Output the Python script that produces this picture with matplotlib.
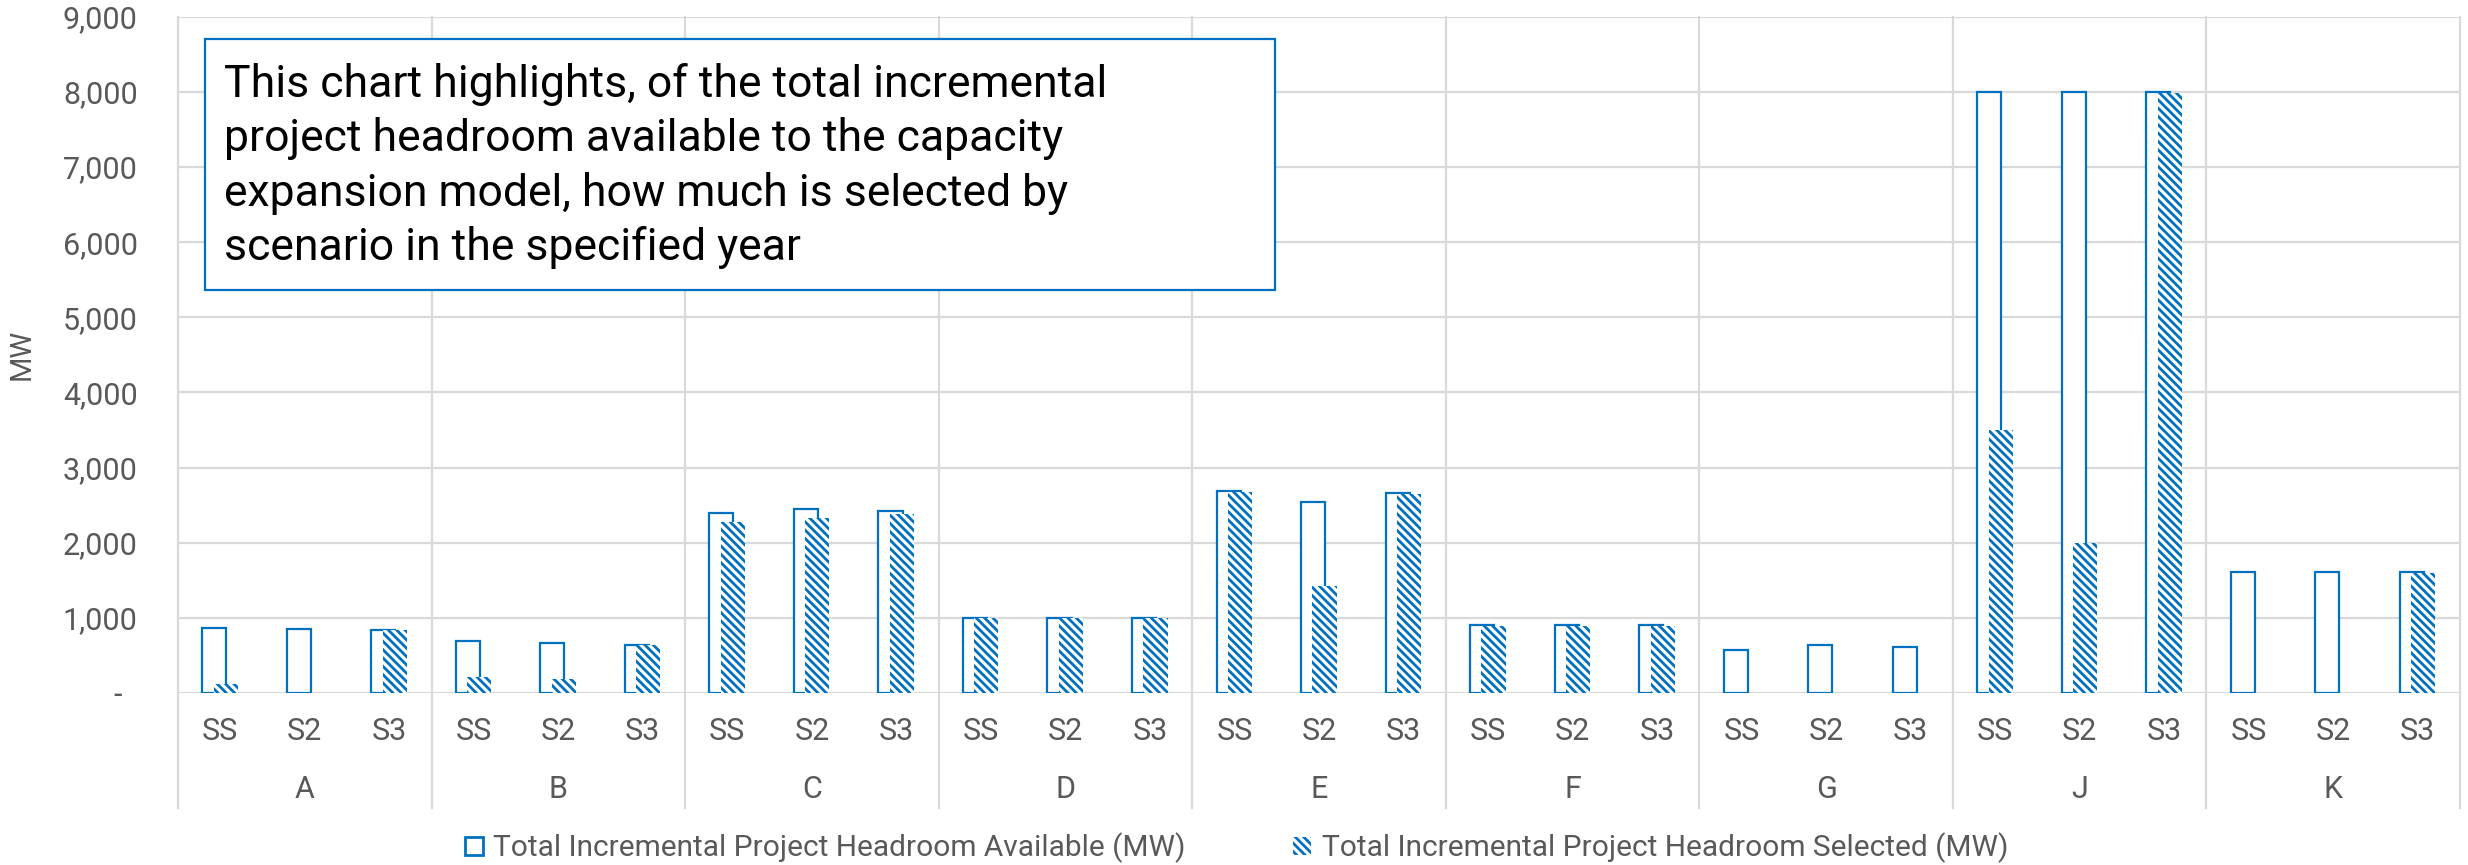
import matplotlib
matplotlib.use("Agg")
import matplotlib.pyplot as plt
from matplotlib.patches import Rectangle, Patch
from matplotlib.ticker import FuncFormatter

# ---- data -------------------------------------------------------------
zones = ["A", "B", "C", "D", "E", "F", "G", "J", "K"]
scenarios = ["SS", "S2", "S3"]

# Total incremental project headroom available (MW), zone by zone, SS/S2/S3
available = [
    860, 850, 840,      # A
    695, 660, 640,      # B
    2400, 2445, 2420,   # C
    1000, 1000, 1000,   # D
    2685, 2540, 2660,   # E
    905, 905, 905,      # F
    575, 635, 615,      # G
    8000, 8000, 8000,   # J
    1615, 1615, 1615,   # K
]

# Total incremental project headroom selected (MW)
selected = [
    120, 0, 835,
    210, 185, 635,
    2270, 2335, 2385,
    995, 995, 995,
    2675, 1430, 2650,
    890, 890, 890,
    0, 0, 0,
    3500, 2000, 7990,
    0, 0, 1600,
]

legend_labels = [
    "Total Incremental Project Headroom Available (MW)",
    "Total Incremental Project Headroom Selected (MW)",
]
note = ("This chart highlights, of the total incremental\n"
        "project headroom available to the capacity\n"
        "expansion model, how much is selected by\n"
        "scenario in the specified year")

# ---- style ------------------------------------------------------------
BLUE = "#0070C0"
GRID = "#D9D9D9"
TXT = "#595959"
plt.rcParams["font.family"] = ["Roboto", "DejaVu Sans"]
plt.rcParams["hatch.linewidth"] = 2.0
plt.rcParams["hatch.color"] = BLUE
HATCH = "\\\\\\\\"

W, H = 2468, 865
fig = plt.figure(figsize=(W / 100, H / 100), dpi=100)
ax = fig.add_axes([178 / W, 1 - 693 / H, (2460 - 178) / W, (693 - 16.7) / H])

n = len(available)
xs = list(range(n))
bw = 0.285
ax.bar([x - 0.07 for x in xs], available, width=bw, facecolor="white",
       edgecolor=BLUE, linewidth=1.6, zorder=3)
ax.bar([x + 0.065 for x in xs], selected, width=bw, facecolor="white",
       edgecolor=BLUE, linewidth=0, hatch=HATCH, zorder=4)

ax.set_xlim(-0.5, n - 0.5)
ax.set_ylim(0, 9000)
ax.set_yticks(range(0, 9001, 1000))
ax.yaxis.set_major_formatter(FuncFormatter(lambda v, p: "-  " if v == 0 else f"{int(v):,}"))
ax.tick_params(axis="y", length=0, pad=29, labelsize=22, labelcolor=TXT)
ax.set_xticks([])
ax.yaxis.grid(True, color=GRID, linewidth=1.6, zorder=0)
for s in ax.spines.values():
    s.set_visible(False)

# zone separators running through the plot and down through both label rows
xt = ax.get_xaxis_transform()
for k in range(len(zones) + 1):
    xb = -0.5 + 3 * k
    ax.plot([xb, xb], [1, -0.170], transform=xt, color=GRID, lw=1.6,
            clip_on=False, zorder=1)

# two-level category labels
for i in xs:
    ax.text(i, -0.057, scenarios[i % 3], transform=xt, ha="center",
            va="center", fontsize=22, color=TXT)
for g, z in enumerate(zones):
    ax.text(3 * g + 1, -0.143, z, transform=xt, ha="center", va="center",
            fontsize=22, color=TXT)

fig.text(22 / W, 1 - 354 / H, "MW", rotation=90, ha="center", va="center",
         fontsize=21, color=TXT)

# annotation box
fig.add_artist(Rectangle((204.7 / W, 1 - 290 / H), (1275 - 204.7) / W,
                         (290 - 39.3) / H, transform=fig.transFigure,
                         facecolor="white", edgecolor=BLUE, linewidth=1.6,
                         zorder=5))
fig.text(223.5 / W, 1 - 166 / H, note, ha="left", va="center", fontsize=32,
         linespacing=1.33, color="black", zorder=6)

# legend
handles = [
    Patch(facecolor="white", edgecolor=BLUE, linewidth=2),
    Patch(facecolor="white", edgecolor=BLUE, linewidth=0, hatch=HATCH),
]
fig.legend(handles, legend_labels, loc="center", bbox_to_anchor=(0.501, 1 - 848 / H),
           ncol=2, frameon=False, fontsize=21.5, labelcolor=TXT,
           handlelength=0.6, handleheight=0.6, handletextpad=0.35,
           columnspacing=3.6, borderpad=0)

fig.savefig("out.png", dpi=100)
